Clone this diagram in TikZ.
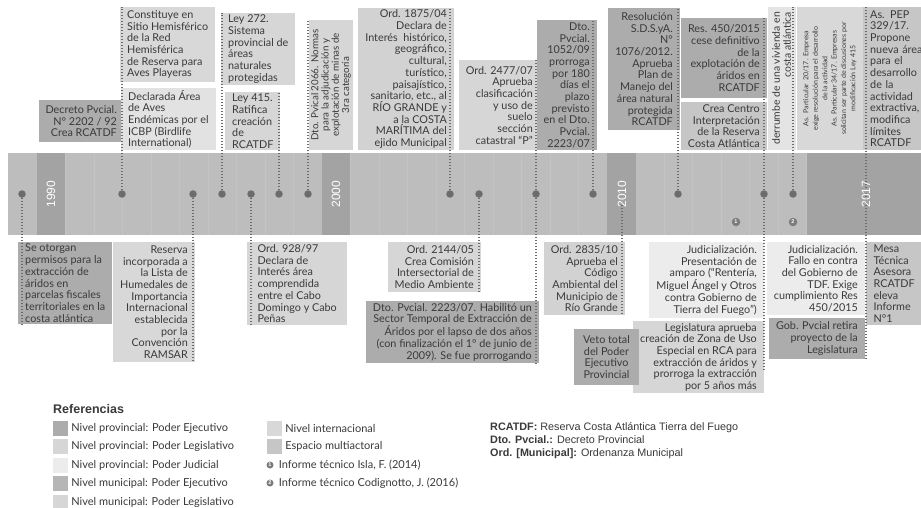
\documentclass[tikz,border=0pt]{standalone}
\usepackage{fontspec}
\setmainfont{Lato}
\newfontfamily\arialfont{Liberation Sans}
\usetikzlibrary{positioning,calc}
\definecolor{ink}{HTML}{3A3A3A}
\definecolor{band}{HTML}{BDBDBD}
\definecolor{yearbar}{HTML}{A3A3A3}
\definecolor{stripe}{HTML}{C4C4C4}
\definecolor{dotc}{HTML}{6C6C6C}
\definecolor{pej}{HTML}{ACACAC}
\definecolor{pleg}{HTML}{D6D6D6}
\definecolor{pjud}{HTML}{ECECEC}
\definecolor{mej}{HTML}{B6B6B6}
\definecolor{mleg}{HTML}{D2D2D2}
\definecolor{intl}{HTML}{D8D8D8}
\definecolor{multi}{HTML}{C6C6C6}
\definecolor{pale}{HTML}{E4E4E4}
\newcommand\evfont{\fontsize{10.8}{11.7}\selectfont}
\newcommand\keyfont{\fontsize{11}{12}\selectfont}
\newcommand\abbrfont{\arialfont\fontsize{10.8}{12}\selectfont}
\begin{document}
\begin{tikzpicture}[x=1pt, y=-1pt,
  ev/.style={rectangle, fill=#1, inner xsep=7pt, inner ysep=1pt, font=\evfont, text=ink}, ev/.default=pleg,
  evr/.style={ev=#1, anchor=north east, align=right},
  evl/.style={ev=#1, anchor=north west, align=left},
  turned/.style={ev=#1, anchor=center, rotate=90, inner xsep=3pt},
  link/.style={line width=1.3pt, dash pattern=on 1.2pt off 1.8pt, dotc},
  evdot/.style={circle, fill=dotc, inner sep=0, minimum size=7.5pt},
  infobul/.style={circle, fill=dotc!90, inner sep=0, minimum size=#1, text=white, font=\arialfont\bfseries\fontsize{5.5}{6}\selectfont}, infobul/.default=8.5pt,
  year/.style={rotate=90, text=white, font=\arialfont\fontsize{12}{12}\selectfont},
  key/.style={rectangle, fill=#1, inner sep=0, minimum size=15pt},
  keytext/.style={font=\keyfont, text=ink, inner sep=0}]

\fill[white] (0,0) rectangle (921,508);
\useasboundingbox (0,0) rectangle (921,508);

% time band
\fill[band] (8,153) rectangle (921,235);
\foreach \k in {0,...,31} \draw[stripe, line width=0.8pt] ({37+28.5*\k},153) -- ++(0,82);
\fill[yearbar] (37,153) rectangle (65,235);
\fill[yearbar] (322,153) rectangle (350,235);
\fill[yearbar] (607,153) rectangle (636,235);
\fill[yearbar] (807,153) rectangle (921,235);

% upper events
\node [evr=pej, minimum height=42pt] (dec92) at (124,100) {Decreto Pvcial.\\N° 2202 / 92\\Crea RCATDF};
\node [evl=intl, minimum height=75pt] (sitio) at (120,7) {Constituye en\\Sitio Hemisférico\\de la Red\\Hemisférica\\de Reserva para\\Aves Playeras};
\node [evl=pale!80!intl, minimum height=62pt] (aves) at (121,88) {Declarada Área\\de Aves\\Endémicas por el\\ICBP (Birdlife\\International)};
\node [evl=pleg, minimum height=72pt] (ley272) at (221,13) {Ley 272.\\Sistema\\provincial de\\áreas\\naturales\\protegidas};
\node [evl=pleg, minimum height=58pt] (ley415) at (225,92) {Ley 415.\\Ratifica\\creación\\de\\RCATDF};
\node [turned=pleg, minimum width=130pt, minimum height=43pt, inner ysep=2pt, align=center, font=\fontsize{9.8}{10.3}\selectfont] (dto2066) at (331,85) {Dto. Pvical 2066. Normas\\para la adjudicación y\\explotación de minas de\\3ra categoría};
\node [evr=mleg, minimum height=142pt] (ord1875) at (454,8) {Ord. 1875/04\\Declara de\\Interés~~histórico,\\geográfico,\\cultural,\\turístico,\\paisajístico,\\sanitario, etc., al\\RÍO GRANDE y\\a la COSTA\\MARÍTIMA del\\ejido Municipal};
\node [evr=pleg, minimum height=90pt] (ord2477) at (540,60) {Ord. 2477/07\\Aprueba\\clasificación\\y uso de\\suelo\\sección\\catastral “P”};
\node [evr=pej, minimum height=130pt] (dto1052) at (597,20) {Dto.\\Pvcial.\\1052/09\\prorroga\\por 180\\días el\\plazo\\previsto\\en el Dto.\\Pvcial.\\2223/07};
\node [evr=pej, minimum height=122pt] (res1076) at (680,8) {Resolución\\S.D.S.yA.\\N°\\1076/2012.\\Aprueba\\Plan de\\Manejo del\\área natural\\protegida\\RCATDF};
\node [evr=pej, minimum height=80pt] (res450) at (767,18) {Res. 450/2015\\cese definitivo\\de la\\explotación de\\áridos en\\RCATDF};
\node [evr=multi, minimum height=48pt] (centro) at (767,102) {Crea Centro\\Interpretación\\de la Reserva\\Costa Atlántica};
\node [turned=pale, minimum width=143pt, minimum height=28pt, align=right, font=\fontsize{10.4}{11}\selectfont] (derrumbe) at (781.5,78.5) {derrumbe de una vivienda en\\costa atlántica};
\node [turned=intl, minimum width=143pt, minimum height=66pt, align=center, font=\fontsize{7}{9.4}\selectfont] (asprt) at (830,78.5) {As.~~Particular~~20/17. Empresa\\exige resolución para el desarrollo\\de la actividad\\As. Particular 34/17. Empresas\\solicitan ser parte de discusiones por\\modificación Ley 415};
\node [evl=multi, minimum height=143pt, text width=60pt] (pep) at (863,7) {As. PEP\\329/17.\\Propone\\nueva área\\para el\\desarrollo\\de la\\actividad\\extractiva,\\modifica\\límites\\RCATDF};

% lower events
\node [evl=pej, minimum height=82pt] (perm) at (18,242) {Se otorgan\\permisos para la\\extracción de\\áridos en\\parcelas fiscales\\territoriales en la\\costa atlántica};
\node [evr=intl, minimum height=120pt] (ramsar) at (195,242) {Reserva\\incorporada a\\la Lista de\\Humedales de\\Importancia\\Internacional\\establecida\\por la\\Convención\\RAMSAR};
\node [evl=pleg, minimum height=83pt, minimum width=100pt] (ord928) at (247,242) {Ord. 928/97\\Declara de\\Interés área\\comprendida\\entre el Cabo\\Domingo y Cabo\\Peñas};
\node [evr=pleg, minimum height=50pt] (ord2144) at (481,242) {Ord. 2144/05\\Crea Comisión\\Intersectorial de\\Medio Ambiente};
\node [evr=pej, minimum height=62pt] (dto2223) at (539,301) {Dto. Pvcial. 2223/07. Habilitó un\\Sector Temporal de Extracción de\\Áridos por el lapso de dos años\\(con finalización el 1° de junio de\\2009). Se fue prorrogando};
\node [evr=mleg, minimum height=73pt] (ord2835) at (625,242) {Ord. 2835/10\\Aprueba el\\Código\\Ambiental del\\Municipio de\\Río Grande};
\node [evr=pleg, minimum height=72pt] (zona) at (764,321) {Legislatura aprueba\\creación de Zona de Uso\\Especial en RCA para\\extracción de áridos y\\prorroga la extracción\\por 5 años más};
\node [ev=pej, minimum height=56pt, minimum width=65pt, align=center, inner xsep=2pt] (veto) at (606.5,357) {Veto total\\del Poder\\Ejecutivo\\Provincial};
\node [evr=pjud, minimum height=76pt] (amparo) at (764,242) {Judicialización.\\Presentación de\\amparo (“Rentería,\\Miguel Ángel y Otros\\contra Gobierno de\\Tierra del Fuego”)};
\node [evr=pjud, minimum height=73pt] (fallo) at (865,242) {Judicialización.\\Fallo en contra\\del Gobierno de\\TDF. Exige\\cumplimiento Res\\450/2015};
\node [evr=pej, minimum height=41pt, minimum width=95pt] (retira) at (865,318) {Gob. Pvcial retira\\proyecto de la\\Legislatura};
\node [evl=multi, minimum height=83pt, minimum width=56pt] (mesa) at (866,242) {Mesa\\Técnica\\Asesora\\RCATDF\\eleva\\Informe\\N°1};

% points on the band
\node [evdot] (p22) at (22,194) {};
\node [evdot] (p122) at (122,194) {};
\node [evdot] (p193) at (193,194) {};
\node [evdot] (p222) at (222,194) {};
\node [evdot] (p251) at (251,194) {};
\node [evdot] (p279) at (279,194) {};
\node [evdot] (p308) at (308,194) {};
\node [evdot] (p450) at (450,194) {};
\node [evdot] (p479) at (479,194) {};
\node [evdot] (p536) at (536,194) {};
\node [evdot] (p593) at (593,194) {};
\node [evdot] (p678) at (678,194) {};
\node [evdot] (p764) at (764,194) {};
\node [evdot] (p793) at (793,194) {};
\coordinate (c2010) at (622,205);
\coordinate (c2017) at (866,194);

\draw[link] (p22) -- (p22 |- perm.south);
\draw[link] (p122) -- (p122 |- sitio.north);
\draw[link] (p193) -- (p193 |- ramsar.south);
\draw[link] (p222) -- (p222 |- ley272.north);
\draw[link] (p251) -- (p251 |- ord928.south);
\draw[link] (p279) -- (p279 |- ley415.north);
\draw[link] (p308) -- (p308 |- dto2066.east);
\draw[link] (p450) -- (p450 |- ord1875.north);
\draw[link] (p479) -- (p479 |- ord2144.south);
\draw[link] (p536) -- (p536 |- ord2477.north);
\draw[link] (p536) -- (p536 |- dto2223.south);
\draw[link] (p593) -- (p593 |- dto1052.north);
\draw[link] (c2010) -- (c2010 |- ord2835.south);
\draw[link] (p678) -- (p678 |- res1076.north);
\draw[link] (p764) -- (p764 |- res450.north);
\draw[link] (p764) -- ($(p764 |- zona.south)+(0,-22)$);
\draw[link] (p793) -- (p793 |- derrumbe.east);
\draw[link] (c2017 |- pep.north) -- (c2017 |- retira.south);

\node [year] (y1990) at (51,194) {1990};
\node [year] (y2000) at (336,194) {2000};
\node [year] (y2010) at (622,194) {2010};
\node [year] (y2017) at (866,194) {2017};
\node [infobul] (inf1) at (736,222) {1};
\node [infobul] (inf2) at (793,222) {2};

% references
\node [anchor=west, inner sep=0, text=ink, font=\arialfont\bfseries\fontsize{12.5}{14}\selectfont] (reftitle) at (53,409) {Referencias};
\node [key=pej] (k1) at (60.5,428) {};
\node [key=pleg] (k2) at (60.5,446.5) {};
\node [key=pjud] (k3) at (60.5,465) {};
\node [key=mej] (k4) at (60.5,483.5) {};
\node [key=pleg] (k5) at (60.5,502) {};
\node [keytext, right=3pt of k1] (t1) {Nivel provincial: Poder Ejecutivo};
\node [keytext, right=3pt of k2] (t2) {Nivel provincial: Poder Legislativo};
\node [keytext, right=3pt of k3] (t3) {Nivel provincial: Poder Judicial};
\node [keytext, right=3pt of k4] (t4) {Nivel municipal: Poder Ejecutivo};
\node [keytext, right=3pt of k5] (t5) {Nivel municipal: Poder Legislativo};
\node [key=intl] (k6) at (274.5,428) {};
\node [key=multi] (k7) at (274.5,446.5) {};
\node [keytext, right=3pt of k6] (t6) {Nivel internacional};
\node [keytext, right=3pt of k7] (t7) {Espacio multiactoral};
\node [infobul=7pt] (kinf1) at (270,465) {1};
\node [infobul=7pt] (kinf2) at (270,483) {2};
\node [keytext, right=5pt of kinf1] (t8) {Informe técnico Isla, F. (2014)};
\node [keytext, right=5pt of kinf2] (t9) {Informe técnico Codignotto, J. (2016)};
\node [anchor=west, inner sep=0, text=ink, font=\abbrfont] (abbr1) at (490,428) {\textbf{RCATDF:} Reserva Costa Atlántica Tierra del Fuego};
\node [inner sep=0, text=ink, font=\abbrfont, below=2.5pt of abbr1.south west, anchor=north west] (abbr2) {\textbf{Dto. Pvcial.:} Decreto Provincial};
\node [inner sep=0, text=ink, font=\abbrfont, below=4pt of abbr2.south west, anchor=north west] (abbr3) {\textbf{Ord. [Municipal]:} Ordenanza Municipal};

\end{tikzpicture}
\end{document}
